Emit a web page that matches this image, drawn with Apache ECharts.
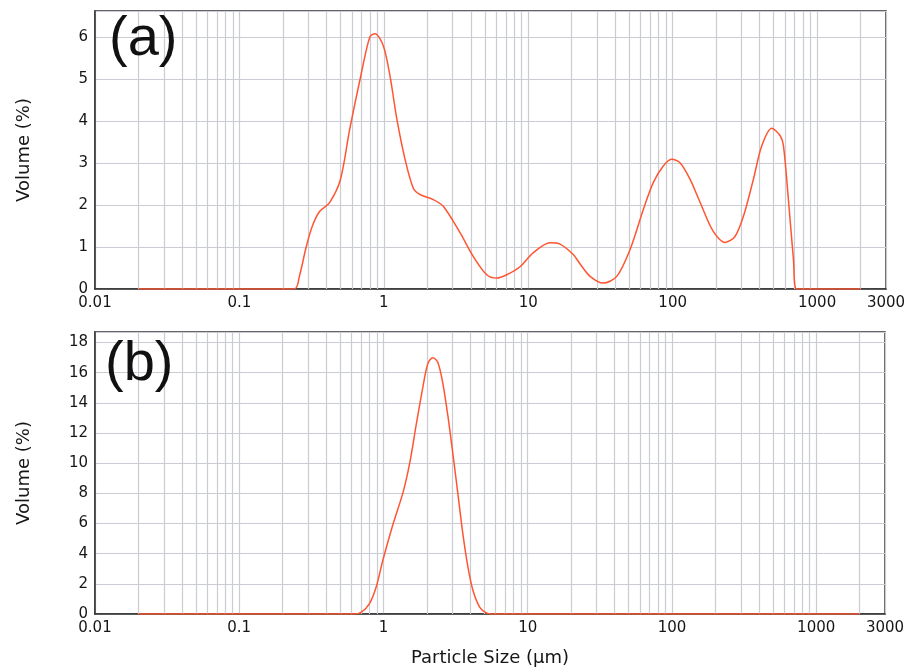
<!DOCTYPE html>
<html>
<head>
<meta charset="utf-8">
<script src="https://cdn.jsdelivr.net/npm/echarts@6/dist/echarts.min.js"></script>
<style>
  html, body { margin: 0; padding: 0; background: #fff; }
  #main { width: 912px; height: 670px; }
</style>
</head>
<body>
<div id="main"></div>
<script>
// panel (a): particle size (um) and volume (%)
var sizeA = [0.02, 0.24, 0.26, 0.29, 0.32, 0.36, 0.42, 0.50, 0.58, 0.70, 0.80, 0.87, 0.99, 1.10, 1.23, 1.40, 1.60, 1.78,
    2.20, 2.58, 3.37, 4.17, 5.16, 6.05, 7.10, 8.77, 10.8, 14.2, 16.6, 20.5, 22.8, 26.8, 33.1, 41.0, 50.7, 62.7, 73.5,
    86.1, 98.4, 112, 132, 155, 191, 231, 270, 309, 362, 414, 486, 555, 585, 633, 686, 722, 2000];
var volA = [0, 0, 0.3, 1.0, 1.5, 1.85, 2.05, 2.6, 3.8, 5.15, 6.0, 6.08, 5.8, 5.1, 4.05, 3.1, 2.4, 2.25,
    2.13, 1.97, 1.34, 0.77, 0.34, 0.26, 0.34, 0.53, 0.86, 1.10, 1.07, 0.82, 0.6, 0.3, 0.14, 0.3, 0.94, 1.9, 2.54,
    2.93, 3.09, 3.01, 2.61, 2.06, 1.37, 1.11, 1.25, 1.73, 2.61, 3.41, 3.83, 3.65, 3.41, 2.13, 0.7, 0, 0];

// panel (b)
var sizeB = [0.02, 0.615, 0.70, 0.80, 0.89, 0.99, 1.16, 1.37, 1.52, 1.69, 1.88, 2.03, 2.20, 2.38, 2.58, 2.80,
    3.03, 3.28, 3.55, 3.85, 4.17, 4.64, 5.16, 5.58, 2000];
var volB = [0, 0, 0.11, 0.69, 1.79, 3.56, 5.9, 8.1, 10.0, 12.6, 15.1, 16.6, 17.0, 16.7, 15.3, 13.1,
    10.6, 7.98, 5.33, 3.12, 1.57, 0.46, 0.07, 0, 0];

var decades = [0.01, 0.1, 1, 10, 100, 1000];
var xMin = 0.01, xMax = 3000;

var gridGray = '#c9ccd3';
var curveColor = '#ff5533';
var textColor = '#161616';
var font = 'DejaVu Sans';

// minor log grid lines (2..9 in each decade)
var minorLines = [];
decades.forEach(function (d) {
    for (var m = 2; m <= 9; m++) {
        var v = +(d * m).toPrecision(3);
        if (v < xMax) minorLines.push({ xAxis: v });
    }
});

function pairs(xs, ys) {
    return xs.map(function (x, i) { return [x, ys[i]]; });
}

function fmt(v) {
    return String(parseFloat(Number(v).toPrecision(4)));
}

function xAxisCfg(idx, withName) {
    return {
        type: 'log',
        gridIndex: idx,
        min: xMin,
        max: xMax,
        logBase: 10,
        name: withName ? 'Particle Size (μm)' : '',
        nameLocation: 'middle',
        nameGap: 35,
        nameTextStyle: { fontFamily: font, fontSize: 18, color: textColor },
        axisLine: { show: true, onZero: false, lineStyle: { color: '#333', width: 1.5 } },
        axisTick: { show: false },
        axisLabel: { fontFamily: font, fontSize: 15, color: textColor, margin: 7, formatter: fmt },
        splitLine: { show: true, lineStyle: { color: gridGray, width: 1.2 } }
    };
}

function yAxisCfg(idx, max, step) {
    return {
        type: 'value',
        gridIndex: idx,
        min: 0,
        max: max,
        interval: step,
        name: 'Volume (%)',
        nameLocation: 'middle',
        nameGap: 62,
        nameTextStyle: { fontFamily: font, fontSize: 18, color: textColor },
        axisLine: { show: true, lineStyle: { color: '#333', width: 1.5 } },
        axisTick: { show: false },
        axisLabel: { fontFamily: font, fontSize: 15, color: textColor, margin: 7, showMaxLabel: false },
        splitLine: { show: true, lineStyle: { color: gridGray, width: 1.2 } }
    };
}

function gridLinesSeries(idx) {
    return {
        type: 'line',
        xAxisIndex: idx,
        yAxisIndex: idx,
        data: [],
        z: 1,
        silent: true,
        markLine: {
            silent: true,
            symbol: ['none', 'none'],
            label: { show: false },
            lineStyle: { type: 'solid', color: gridGray, width: 1.2 },
            data: minorLines
        }
    };
}

function curveSeries(idx, data) {
    return {
        type: 'line',
        xAxisIndex: idx,
        yAxisIndex: idx,
        data: data,
        z: 5,
        smooth: 0.3,
        showSymbol: false,
        lineStyle: { color: curveColor, width: 1.5 }
    };
}

var chart = echarts.init(document.getElementById('main'), null, { renderer: 'canvas' });

var option = {
    animation: false,
    backgroundColor: '#fff',
    grid: [
        { left: 95, top: 11, right: 26, height: 278, show: true, borderColor: '#333', borderWidth: 1.5, containLabel: false },
        { left: 95, top: 332, right: 27, height: 282, show: true, borderColor: '#333', borderWidth: 1.5, containLabel: false }
    ],
    xAxis: [xAxisCfg(0, false), xAxisCfg(1, true)],
    yAxis: [yAxisCfg(0, 6.62, 1), yAxisCfg(1, 18.7, 2)],
    graphic: [
        {
            type: 'text', left: 109, top: 12, z: 10,
            style: { text: '(a)', font: '56px "Liberation Sans", Arial, sans-serif', fill: '#111' }
        },
        {
            type: 'text', left: 105, top: 337, z: 10,
            style: { text: '(b)', font: '56px "Liberation Sans", Arial, sans-serif', fill: '#111' }
        }
    ],
    series: [
        gridLinesSeries(0),
        gridLinesSeries(1),
        curveSeries(0, pairs(sizeA, volA)),
        curveSeries(1, pairs(sizeB, volB))
    ]
};

chart.setOption(option);
</script>
</body>
</html>
